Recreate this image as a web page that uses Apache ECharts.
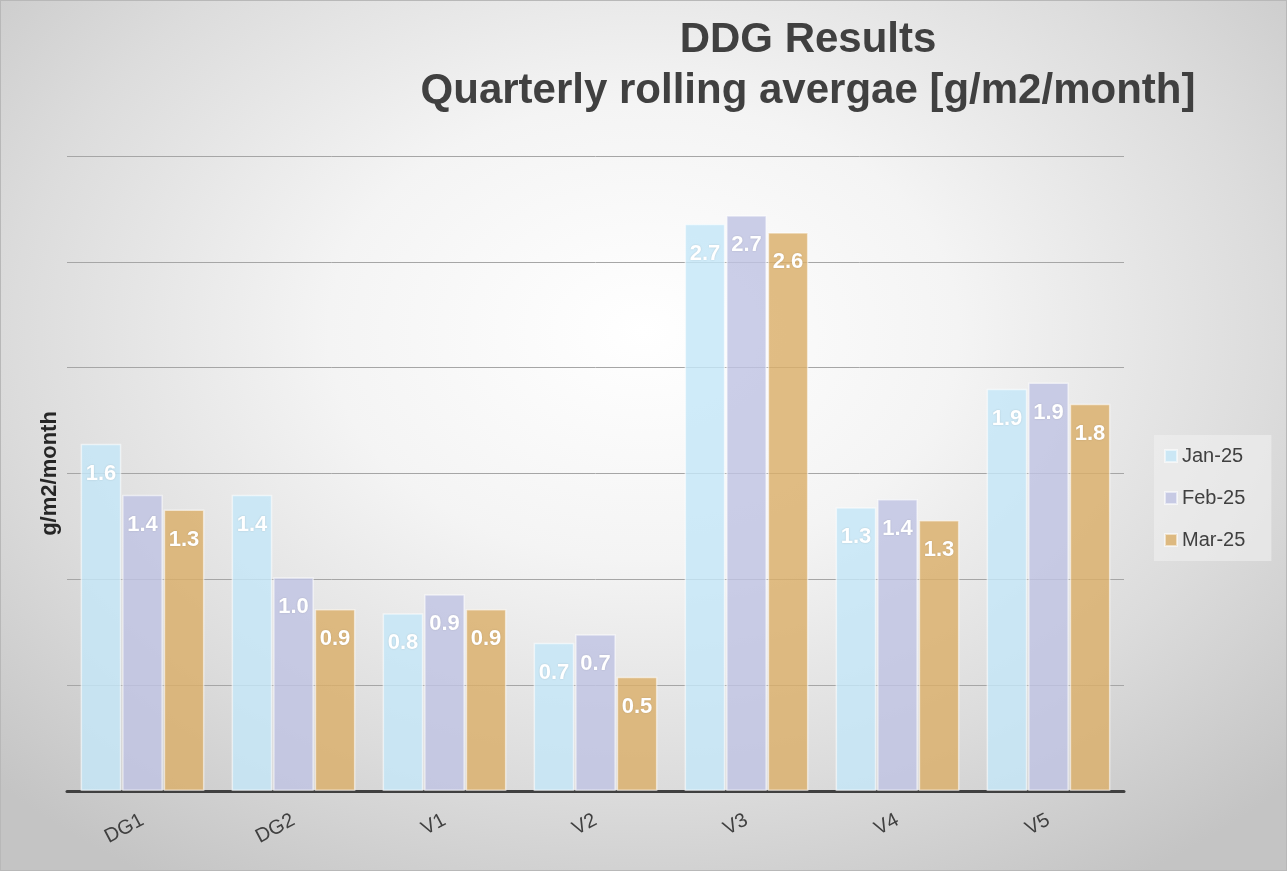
<!DOCTYPE html>
<html>
<head>
<meta charset="utf-8">
<script src="https://cdn.jsdelivr.net/npm/echarts@6/dist/echarts.min.js"></script>
<style>
html,body{margin:0;padding:0;}
#chart{width:1287px;height:871px;box-sizing:border-box;border:1px solid #b8b8b8;
background:radial-gradient(ellipse 70% 75% at 50% 38%, #ffffff 0%, #f4f4f4 35%, #dcdcdc 70%, #c4c4c4 100%);}
</style>
</head>
<body>
<div id="chart"></div>
<script>
const categories = ['DG1','DG2','V1','V2','V3','V4','V5'];
const seriesNames = ['Jan-25','Feb-25','Mar-25'];
const jan25 = [1.64, 1.40, 0.84, 0.70, 2.68, 1.34, 1.90];
const feb25 = [1.40, 1.01, 0.93, 0.74, 2.72, 1.38, 1.93];
const mar25 = [1.33, 0.86, 0.86, 0.54, 2.64, 1.28, 1.83];
const colors = ['rgba(196,230,248,0.82)','rgba(191,195,227,0.82)','rgba(219,174,105,0.82)'];

const chart = echarts.init(document.getElementById('chart'));
const mk = (name, data, i) => ({
  name, type:'bar', data,
  barGap:'2%', barCategoryGap:'18%',
  itemStyle:{color:colors[i], borderColor:'rgba(255,255,255,0.55)', borderWidth:1.5},
  label:{show:true, position:'insideTop', distance:19, color:'#ffffff', fontFamily:'Liberation Sans',
    fontWeight:'bold', fontSize:22, formatter:p=>p.value.toFixed(1),
    textShadowColor:'rgba(0,0,0,0.15)', textShadowBlur:2}
});
chart.setOption({
  backgroundColor:'transparent',
  animation:false,
  title:{
    text:'DDG Results\nQuarterly rolling avergae [g/m2/month]',
    left:802, top:9, textAlign:'center',
    textStyle:{fontFamily:'Liberation Sans', fontWeight:'bold', fontSize:42, lineHeight:51, color:'#404040'}
  },
  legend:{
    orient:'vertical', left:1153, top:434, width:117,
    padding:[11,26,11,10], itemGap:22,
    backgroundColor:'rgba(240,240,240,0.6)',
    itemWidth:12, itemHeight:12, icon:'rect',
    textStyle:{fontFamily:'Liberation Sans', fontSize:20, color:'#404040'},
    data:seriesNames
  },
  grid:{left:66, right:162, top:155, bottom:79, containLabel:false},
  xAxis:{
    type:'category', data:categories,
    axisLine:{lineStyle:{color:'#404040', width:3}},
    axisTick:{show:false},
    axisLabel:{rotate:28, margin:28, fontFamily:'Liberation Sans', fontSize:20, color:'#404040'}
  },
  yAxis:{
    type:'value', min:0, max:3, interval:0.5,
    name:'g/m2/month', nameLocation:'middle', nameGap:6,
    nameTextStyle:{fontFamily:'Liberation Sans', fontWeight:'bold', fontSize:22, color:'#262626'},
    axisLabel:{show:false}, axisLine:{show:false}, axisTick:{show:false},
    splitLine:{lineStyle:{color:'#a6a6a6', width:1}}
  },
  series:[mk(seriesNames[0], jan25, 0), mk(seriesNames[1], feb25, 1), mk(seriesNames[2], mar25, 2)]
});
</script>
</body>
</html>
